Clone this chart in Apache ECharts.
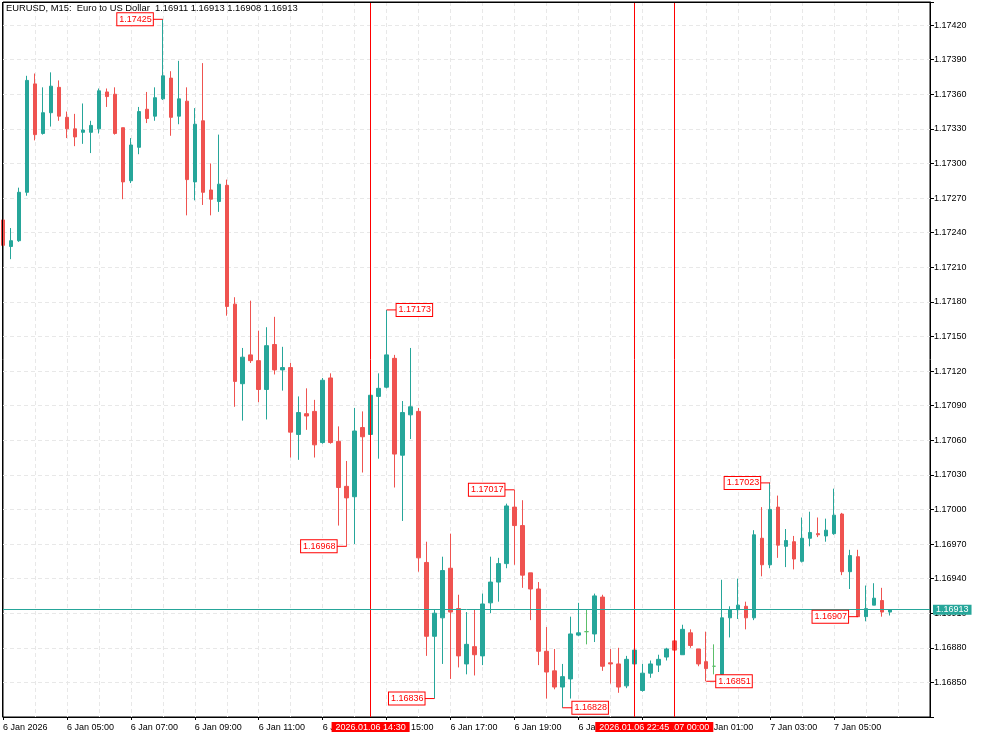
<!DOCTYPE html>
<html>
<head>
<meta charset="utf-8">
<title>EURUSD M15</title>
<script src="https://cdn.jsdelivr.net/npm/echarts@6/dist/echarts.min.js"></script>
<style>
  html, body { margin: 0; padding: 0; background: #fff; }
  #main { width: 983px; height: 737px; }
</style>
</head>
<body>
<div id="main"></div>
<script>
// M15 bars, first bar 2026.01.06 03:00
var openPrices = [
  1.17251, 1.17228, 1.17233, 1.17275, 1.17369, 1.17326, 1.17344, 1.17366, 1.17340, 1.17330,
  1.17327, 1.17327, 1.17330, 1.17362, 1.17360, 1.17331, 1.17285, 1.17314, 1.17347, 1.17341,
  1.17356, 1.17374, 1.17341, 1.17354, 1.17284, 1.17337, 1.17277, 1.17267, 1.17281, 1.17178,
  1.17109, 1.17134, 1.17129, 1.17104, 1.17143, 1.17121, 1.17123, 1.17065, 1.17083, 1.17085,
  1.17058, 1.17114, 1.17059, 1.17020, 1.17011, 1.17071, 1.17065, 1.17098, 1.17106, 1.17131,
  1.17047, 1.17082, 1.17085, 1.16954, 1.16890, 1.16906, 1.16949, 1.16914, 1.16866, 1.16881,
  1.16873, 1.16919, 1.16937, 1.16953, 1.17002, 1.16986, 1.16945, 1.16931, 1.16877, 1.16860,
  1.16846, 1.16853, 1.16891, 1.16894, 1.16892, 1.16924, 1.16867, 1.16866, 1.16847, 1.16866,
  1.16843, 1.16858, 1.16865, 1.16872, 1.16886, 1.16874, 1.16893, 1.16879, 1.16868, 1.16864,
  1.16857, 1.16906, 1.16913, 1.16916, 1.16906, 1.16975, 1.16952, 1.17002, 1.16968, 1.16972,
  1.16955, 1.16975, 1.16979, 1.16977, 1.16979, 1.16996, 1.16946, 1.16959, 1.16907, 1.16917,
  1.16921, 1.16911
];
var closePrices = [
  1.17229, 1.17233, 1.17275, 1.17372, 1.17325, 1.17344, 1.17367, 1.17341, 1.17330, 1.17323,
  1.17329, 1.17333, 1.17363, 1.17358, 1.17326, 1.17284, 1.17316, 1.17345, 1.17339, 1.17357,
  1.17376, 1.17340, 1.17356, 1.17286, 1.17334, 1.17275, 1.17269, 1.17282, 1.17176, 1.17111,
  1.17132, 1.17129, 1.17104, 1.17142, 1.17121, 1.17123, 1.17067, 1.17084, 1.17081, 1.17056,
  1.17112, 1.17058, 1.17019, 1.17010, 1.17068, 1.17063, 1.17099, 1.17105, 1.17134, 1.17048,
  1.17084, 1.17089, 1.16958, 1.16890, 1.16910, 1.16947, 1.16911, 1.16873, 1.16883, 1.16874,
  1.16918, 1.16937, 1.16953, 1.17003, 1.16986, 1.16943, 1.16931, 1.16877, 1.16859, 1.16846,
  1.16855, 1.16892, 1.16893, 1.16894, 1.16925, 1.16864, 1.16866, 1.16846, 1.16870, 1.16878,
  1.16858, 1.16866, 1.16870, 1.16879, 1.16878, 1.16896, 1.16882, 1.16866, 1.16862, 1.16864,
  1.16906, 1.16913, 1.16917, 1.16906, 1.16978, 1.16952, 1.17000, 1.16969, 1.16973, 1.16957,
  1.16975, 1.16980, 1.16978, 1.16982, 1.16995, 1.16946, 1.16960, 1.16907, 1.16914, 1.16923,
  1.16911, 1.16913
];
var lowPrices = [
  1.17224, 1.17217, 1.17232, 1.17272, 1.17320, 1.17325, 1.17332, 1.17337, 1.17322, 1.17315,
  1.17317, 1.17309, 1.17326, 1.17349, 1.17325, 1.17269, 1.17283, 1.17308, 1.17335, 1.17337,
  1.17355, 1.17324, 1.17334, 1.17255, 1.17268, 1.17264, 1.17255, 1.17258, 1.17168, 1.17089,
  1.17077, 1.17127, 1.17093, 1.17078, 1.17117, 1.17103, 1.17045, 1.17043, 1.17069, 1.17045,
  1.17057, 1.17057, 1.16986, 1.16968, 1.16970, 1.17032, 1.17059, 1.17044, 1.17105, 1.17019,
  1.16990, 1.17061, 1.16946, 1.16873, 1.16836, 1.16866, 1.16853, 1.16863, 1.16857, 1.16856,
  1.16865, 1.16910, 1.16920, 1.16949, 1.16952, 1.16932, 1.16904, 1.16865, 1.16836, 1.16844,
  1.16828, 1.16836, 1.16890, 1.16883, 1.16885, 1.16860, 1.16849, 1.16841, 1.16845, 1.16864,
  1.16842, 1.16854, 1.16859, 1.16869, 1.16876, 1.16874, 1.16880, 1.16864, 1.16851, 1.16857,
  1.16856, 1.16889, 1.16905, 1.16896, 1.16904, 1.16942, 1.16949, 1.16958, 1.16950, 1.16948,
  1.16954, 1.16968, 1.16976, 1.16972, 1.16978, 1.16943, 1.16931, 1.16907, 1.16903, 1.16917,
  1.16907, 1.16908
];
var highPrices = [
  1.17255, 1.17244, 1.17279, 1.17376, 1.17378, 1.17366, 1.17379, 1.17372, 1.17345, 1.17343,
  1.17352, 1.17337, 1.17365, 1.17365, 1.17366, 1.17331, 1.17322, 1.17349, 1.17362, 1.17366,
  1.17425, 1.17380, 1.17389, 1.17366, 1.17348, 1.17387, 1.17300, 1.17325, 1.17286, 1.17184,
  1.17140, 1.17181, 1.17155, 1.17158, 1.17167, 1.17141, 1.17127, 1.17098, 1.17105, 1.17095,
  1.17114, 1.17118, 1.17072, 1.17042, 1.17088, 1.17085, 1.17101, 1.17118, 1.17173, 1.17134,
  1.17094, 1.17140, 1.17088, 1.16972, 1.16913, 1.16959, 1.16979, 1.16926, 1.16911, 1.16913,
  1.16927, 1.16959, 1.16958, 1.17005, 1.17017, 1.17008, 1.16945, 1.16937, 1.16898, 1.16879,
  1.16866, 1.16907, 1.16919, 1.16913, 1.16927, 1.16926, 1.16879, 1.16880, 1.16873, 1.16880,
  1.16866, 1.16869, 1.16874, 1.16880, 1.16887, 1.16900, 1.16896, 1.16879, 1.16894, 1.16883,
  1.16939, 1.16916, 1.16940, 1.16920, 1.16982, 1.17002, 1.17023, 1.17012, 1.16983, 1.16977,
  1.16993, 1.16998, 1.16993, 1.16992, 1.17018, 1.16997, 1.16965, 1.16965, 1.16934, 1.16936,
  1.16932, 1.16913
];
var dojiBars = [73, 89];

var timeLabels = ['6 Jan 2026', '6 Jan 05:00', '6 Jan 07:00', '6 Jan 09:00', '6 Jan 11:00',
  '6 Jan 13:00', '6 Jan 15:00', '6 Jan 17:00', '6 Jan 19:00', '6 Jan 21:00', '6 Jan 23:00',
  '7 Jan 01:00', '7 Jan 03:00', '7 Jan 05:00'];

// high / low price tags
var tagBar = [20, 48, 43, 54, 64, 70, 96, 88, 107];
var tagPrice = [1.17425, 1.17173, 1.16968, 1.16836, 1.17017, 1.16828, 1.17023, 1.16851, 1.16907];
var tagSide = ['left', 'right', 'left', 'left', 'left', 'right', 'left', 'right', 'left'];

var vLineTimes = ['2026.01.06 14:30', '2026.01.07 00:00', '2026.01.06 22:45'];
var lastPrice = 1.16913;

var UP = '#26a69a', DOWN = '#ef5350', DOJI = '#5cbf6a';
var FONT = '"Liberation Sans", Arial, sans-serif';

// 112 bars + 5 empty slots on the right
var categories = [];
function pad(n) { return (n < 10 ? '0' : '') + n; }
var start = Date.UTC(2026, 0, 6, 3, 0);
for (var i = 0; i < 117; i++) {
  var t = new Date(start + i * 15 * 60000);
  categories.push(t.getUTCFullYear() + '.' + pad(t.getUTCMonth() + 1) + '.' + pad(t.getUTCDate()) +
    ' ' + pad(t.getUTCHours()) + ':' + pad(t.getUTCMinutes()));
}

var candles = openPrices.map(function (o, i) {
  var item = { value: [o, closePrices[i], lowPrices[i], highPrices[i]] };
  if (dojiBars.indexOf(i) >= 0) {
    item.itemStyle = { color: DOJI, color0: DOJI, borderColor: DOJI, borderColor0: DOJI };
  }
  return item;
});

var tags = tagBar.map(function (b, k) {
  var left = tagSide[k] === 'left';
  return {
    coord: [categories[b], tagPrice[k]],
    value: tagPrice[k].toFixed(5),
    symbol: 'rect',
    symbolSize: [10, 1],
    symbolOffset: [left ? -5 : 5, 0],
    itemStyle: { color: '#ff0000' },
    label: {
      show: true, position: tagSide[k], distance: 0, formatter: '{c}',
      color: '#ff0000', backgroundColor: '#fff', borderColor: '#ff0000', borderWidth: 1,
      padding: [2, 1, 1, 2], fontSize: 9, fontFamily: FONT
    }
  };
});

var lines = vLineTimes.map(function (tm) {
  return {
    xAxis: tm, name: tm,
    lineStyle: { color: '#ff0000', width: 1, type: 'solid' },
    label: {
      show: true, position: 'start', formatter: '{b}', distance: 5,
      color: '#fff', backgroundColor: '#ff0000', padding: [1, 4, 0, 4],
      fontSize: 9, fontFamily: FONT
    }
  };
});
lines.push({
  yAxis: lastPrice, name: 'last',
  lineStyle: { color: UP, width: 1, type: 'solid' },
  label: {
    show: true, position: 'end', distance: 3,
    formatter: function () { return lastPrice.toFixed(5); },
    color: '#fff', backgroundColor: UP, padding: [1, 3, 0, 3],
    fontSize: 9, fontFamily: FONT
  }
});

var chart = echarts.init(document.getElementById('main'));
chart.setOption({
  animation: false,
  backgroundColor: '#fff',
  textStyle: { fontFamily: FONT },
  title: {
    text: 'EURUSD, M15:  Euro to US Dollar  1.16911 1.16913 1.16908 1.16913',
    left: 6, top: 4, padding: 0,
    textStyle: { fontSize: 9.4, fontWeight: 'normal', color: '#000', fontFamily: FONT }
  },
  grid: {
    left: 2, right: 53, top: 2, bottom: 20,
    show: true, borderColor: '#000', borderWidth: 1
  },
  xAxis: [{
    type: 'category',
    data: categories,
    boundaryGap: false,
    axisLine: { lineStyle: { color: '#000', width: 1 } },
    axisTick: {
      show: true, length: 3,
      interval: function (i) { return i % 8 === 0 && i <= 104; },
      lineStyle: { color: '#000' }
    },
    axisLabel: {
      interval: function (i) { return i % 8 === 0; },
      formatter: function (v, i) { return (i % 8 === 0 && timeLabels[i / 8]) ? timeLabels[i / 8] : ''; },
      align: 'left', margin: 6, fontSize: 9, color: '#000', fontFamily: FONT
    },
    splitLine: {
      show: true,
      interval: function (i) { return i % 4 === 0 && i > 0; },
      lineStyle: { color: '#e8e8e8', type: [4, 3] }
    }
  }],
  yAxis: [{
    type: 'value',
    position: 'right',
    scale: true,
    min: 1.16820, max: 1.17440, interval: 0.0003,
    axisLine: { show: true, lineStyle: { color: '#000', width: 1 } },
    axisTick: { show: true, length: 4, lineStyle: { color: '#000' } },
    axisLabel: {
      margin: 4, fontSize: 9, color: '#000', fontFamily: FONT,
      formatter: function (v) { return (v > 1.1743 || v < 1.1683) ? '' : v.toFixed(5); }
    },
    splitLine: { show: true, lineStyle: { color: '#e8e8e8', type: [4, 3] } }
  }],
  series: [{
    type: 'candlestick',
    data: candles,
    barWidth: 4,
    clip: true,
    itemStyle: { color: UP, color0: DOWN, borderColor: UP, borderColor0: DOWN, borderWidth: 1 },
    markPoint: { silent: true, animation: false, data: tags }
  }, {
    // holder for the time and price lines
    type: 'line',
    data: [],
    z: 3,
    markLine: {
      silent: true, animation: false, precision: 5,
      symbol: ['none', 'none'], data: lines
    }
  }],
  graphic: [{
    // left and top edges of the frame
    type: 'line', z: 10,
    shape: { x1: 2.5, y1: 2, x2: 2.5, y2: 717 },
    style: { stroke: '#000', lineWidth: 1 }
  }, {
    type: 'line', z: 10,
    shape: { x1: 2, y1: 2.5, x2: 930, y2: 2.5 },
    style: { stroke: '#000', lineWidth: 1 }
  }]
});
</script>
</body>
</html>
